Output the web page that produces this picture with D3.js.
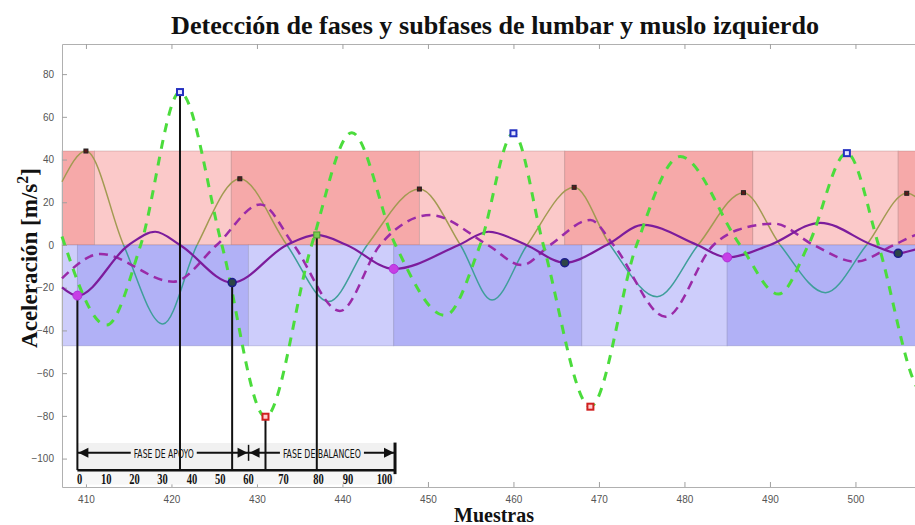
<!DOCTYPE html>
<html>
<head>
<meta charset="utf-8">
<script src="https://cdn.jsdelivr.net/npm/d3@7"></script>
<style>
  body { margin: 0; background: #fff; }
  .tick text { font-family: "Liberation Sans", Arial, sans-serif; font-size: 10px; fill: #555; }
</style>
</head>
<body>
<div id="chart"></div>
<script>
// --- data (samples, m/s^2) ---
var thinX = [407.2, 410, 414.4, 419, 423.0, 428, 433.5, 438.4, 442.9, 449, 453.8, 457.5, 461.6, 467.1, 471.3, 476.8, 481.6, 486.9, 491.2, 496.5, 501.3, 506, 509];
var thinY = [29.6, 44, 0, -37, 0, 31, 0, -26.5, 0, 26.2, 0, -25.8, 0, 27, 0, -24.2, 0, 24.5, 0, -22.3, 0, 24.2, 14];

var dashX = [407.2, 412.4, 416.4, 421, 425.9, 431, 436.4, 441.1, 446.2, 452, 456.1, 460, 463.5, 469, 474.4, 479.5, 486.5, 491, 494.5, 499, 502.7, 507.1, 509];
var dashY = [4, -37.5, 0, 71.6, 0, -80.4, 0, 52.6, 0, -33, 0, 52.3, 0, -75.7, 0, 41.4, 0, -23, 0, 43, 0, -66, -74];

var purpX = [407.2, 409, 415, 418.1, 421, 427.1, 433.5, 437, 440.5, 446, 453.6, 457.1, 461.5, 466, 470.9, 475.2, 481.5, 485, 490, 495.9, 502, 505, 507.1, 509];
var purpY = [-19.8, -23.7, 0, 6.2, 0, -17.6, 0, 4.7, 0, -11.2, 0, 6.2, 0, -8.3, 0, 9.4, 0, -5.8, 0, 10.4, 0, -3.9, -2, 0];

var purpDX = [407.2, 411.7, 420.2, 425.3, 430.4, 434.3, 439.7, 444.4, 450.3, 457, 461, 464.3, 469, 471.7, 477.8, 483.4, 486.2, 490.5, 495.1, 500, 504.5, 507.1, 509];
var purpDY = [-15.6, -4.2, -17.2, 0, 19, 0, -30.9, 0, 14, 0, -9.4, 0, 11.7, 0, -33.6, 0, 7, 10, 0, -7.8, 0, 4.7, 6];

var thinPeaks = [[410, 44], [428, 31], [449, 26.2], [467.1, 27], [486.9, 24.5], [506, 24.2]];
var dashPeaks = [[421, 71.6], [460, 52.3], [499, 43]];
var dashTroughs = [[431, -80.4], [469, -75.7]];
var purpMinA = [[409, -23.7], [446, -11.2], [485, -5.8]];
var purpMinB = [[427.1, -17.6], [466, -8.3], [505, -3.9]];
var purpPeak = [[437, 4.7]];

var eventLines = [[409, -23.7], [421, 71.6], [427.1, -17.6], [431, -80.4], [437, 4.7]];

// phase bands: [start, end, shade]
var redBands = [[407.2, 411, 1], [411, 427, 0], [427, 449, 1], [449, 466, 0], [466, 488, 1], [488, 505, 0], [505, 510, 1]];
var blueBands = [[407.2, 409, 0], [409, 429, 1], [429, 446, 0], [446, 468, 1], [468, 485, 0], [485, 510, 1]];
var redTop = 44, blueBottom = -47.2;

// gait cycle strip (percent label -> sample position)
var gaitPct = ["0", "10", "20", "30", "40", "50", "60", "70", "80", "90", "100"];
var gaitPos = [409.25, 412.37, 415.68, 418.96, 422.4, 425.71, 429.02, 433.11, 437.2, 440.64, 444.92];

var xTicks = [410, 420, 430, 440, 450, 460, 470, 480, 490, 500];
var yTicks = [-100, -80, -60, -40, -20, 0, 20, 40, 60, 80];

// --- layout ---
var W = 915, H = 525;
var margin = { left: 62, top: 44, bottom: 38 };

var x = d3.scaleLinear().domain([407.2, 510]).range([margin.left, margin.left + 102.8 * 8.55]);
var y = d3.scaleLinear().domain([-113.3, 94.1]).range([H - margin.bottom, margin.top]);

var svg = d3.select("#chart").append("svg")
    .attr("width", W)
    .attr("height", H)
    .style("font-family", "'Liberation Serif', serif");

// bands
svg.append("g").selectAll("rect")
    .data(redBands)
    .enter().append("rect")
    .attr("x", function (d) { return x(d[0]); })
    .attr("width", function (d) { return x(d[1]) - x(d[0]); })
    .attr("y", y(redTop))
    .attr("height", y(0) - y(redTop))
    .attr("fill", function (d) { return d[2] ? "#f6a9a9" : "#fbc9c9"; })
    .attr("stroke", "rgba(150,100,100,0.35)")
    .attr("stroke-width", 0.8);

svg.append("g").selectAll("rect")
    .data(blueBands)
    .enter().append("rect")
    .attr("x", function (d) { return x(d[0]); })
    .attr("width", function (d) { return x(d[1]) - x(d[0]); })
    .attr("y", y(0))
    .attr("height", y(blueBottom) - y(0))
    .attr("fill", function (d) { return d[2] ? "#b1b1f6" : "#cdcdfb"; })
    .attr("stroke", "rgba(110,110,160,0.35)")
    .attr("stroke-width", 0.8);

// axes box
var xAxisB = d3.axisBottom(x).tickValues(xTicks).tickSizeInner(-5).tickSizeOuter(0).tickPadding(9);
var xAxisT = d3.axisTop(x).tickValues(xTicks).tickSizeInner(-5).tickSizeOuter(0).tickFormat("");
var yAxisL = d3.axisLeft(y).tickValues(yTicks).tickSizeInner(-5).tickSizeOuter(0).tickPadding(8);

function styleAxis(g) {
    g.select(".domain").attr("stroke", "#b0b0b0");
    g.selectAll(".tick line").attr("stroke", "#a0a0a0");
}

svg.append("g").attr("transform", "translate(0," + y.range()[0] + ")").call(xAxisB).call(styleAxis);
svg.append("g").attr("transform", "translate(0," + y.range()[1] + ")").call(xAxisT).call(styleAxis);
svg.append("g").attr("transform", "translate(" + margin.left + ",0)").call(yAxisL).call(styleAxis);

// gait cycle strip
var gait = svg.append("g");
var gL = x(409), gR = x(446.15), g60 = x(429.02);
var yArrow = y(-97.3), yBase = y(-105.4), yNum = y(-109.6);

gait.append("rect")
    .attr("x", gL).attr("y", y(-92.7))
    .attr("width", gR - gL).attr("height", y(-112) - y(-92.7))
    .attr("fill", "#f1f1f1");

gait.append("rect")
    .attr("x", gL).attr("y", yBase + 2)
    .attr("width", gR - gL).attr("height", y(-112) - yBase - 2)
    .attr("fill", "#f7f7f7");

function arrowHead(px, dir) {
    gait.append("path")
        .attr("d", "M" + px + "," + yArrow + "l" + (-dir * 10) + ",-5l0,10z")
        .attr("fill", "#111");
}

gait.append("line").attr("x1", gL).attr("x2", gR).attr("y1", yArrow).attr("y2", yArrow)
    .attr("stroke", "#111").attr("stroke-width", 2);
arrowHead(gL + 1, -1);
arrowHead(g60 - 1, 1);
arrowHead(g60 + 1, -1);
arrowHead(gR - 1, 1);
gait.append("line").attr("x1", g60).attr("x2", g60).attr("y1", yArrow - 8).attr("y2", yArrow + 8)
    .attr("stroke", "#111").attr("stroke-width", 1.5);
gait.append("line").attr("x1", gR).attr("x2", gR).attr("y1", y(-92.5)).attr("y2", yBase + 4)
    .attr("stroke", "#111").attr("stroke-width", 3);

var phaseLabels = [["FASE DE APOYO", 419.1, 60], ["FASE DE BALANCEO", 437.6, 78]];
phaseLabels.forEach(function (p) {
    gait.append("rect")
        .attr("x", x(p[1]) - p[2] / 2 - 3).attr("y", yArrow - 8)
        .attr("width", p[2] + 6).attr("height", 16)
        .attr("fill", "#f1f1f1");
    gait.append("text")
        .attr("x", x(p[1])).attr("y", yArrow + 5)
        .attr("text-anchor", "middle")
        .attr("textLength", p[2])
        .attr("lengthAdjust", "spacingAndGlyphs")
        .style("font-family", "'DejaVu Sans Condensed', 'DejaVu Sans', sans-serif")
        .style("font-size", "13px")
        .style("fill", "#111")
        .text(p[0]);
});

gait.append("line").attr("x1", gL).attr("x2", gR).attr("y1", yBase).attr("y2", yBase)
    .attr("stroke", "#111").attr("stroke-width", 2.5);

gait.selectAll(".gnum")
    .data(gaitPct)
    .enter().append("text")
    .attr("class", "gnum")
    .attr("x", function (d, i) { return x(gaitPos[i]); })
    .attr("y", yNum + 5)
    .attr("text-anchor", "middle")
    .attr("transform", function (d, i) { var px = x(gaitPos[i]); return "translate(" + px + ",0) scale(0.75,1) translate(" + (-px) + ",0)"; })
    .style("font-family", "'Liberation Serif', serif")
    .style("font-weight", "bold")
    .style("font-size", "14px")
    .style("fill", "#111")
    .text(function (d) { return d; });

// curves
function pts(xs, ys) { return xs.map(function (v, i) { return [v, ys[i]]; }); }
var line = d3.line()
    .x(function (d) { return x(d[0]); })
    .y(function (d) { return y(d[1]); })
    .curve(d3.curveMonotoneX);

var defs = svg.append("defs");
defs.append("clipPath").attr("id", "clipTop").append("rect")
    .attr("x", 0).attr("y", 0).attr("width", W).attr("height", y(0));
defs.append("clipPath").attr("id", "clipBot").append("rect")
    .attr("x", 0).attr("y", y(0)).attr("width", W).attr("height", H - y(0));

svg.append("path").attr("d", line(pts(thinX, thinY)))
    .attr("fill", "none").attr("stroke", "#a29a52").attr("stroke-width", 1.5)
    .attr("clip-path", "url(#clipTop)");
svg.append("path").attr("d", line(pts(thinX, thinY)))
    .attr("fill", "none").attr("stroke", "#3f9e9a").attr("stroke-width", 1.5)
    .attr("clip-path", "url(#clipBot)");

svg.append("path").attr("d", line(pts(purpDX, purpDY)))
    .attr("fill", "none").attr("stroke", "#9a2aa8").attr("stroke-width", 2.5)
    .attr("stroke-dasharray", "9,6");

svg.append("path").attr("d", line(pts(purpX, purpY)))
    .attr("fill", "none").attr("stroke", "#7c1c9c").attr("stroke-width", 2.2);

svg.append("path").attr("d", line(pts(dashX, dashY)))
    .attr("fill", "none").attr("stroke", "#4bdc3c").attr("stroke-width", 3)
    .attr("stroke-dasharray", "9,8");

// event lines
svg.append("g").selectAll("line")
    .data(eventLines)
    .enter().append("line")
    .attr("x1", function (d) { return x(d[0]); })
    .attr("x2", function (d) { return x(d[0]); })
    .attr("y1", function (d) { return y(d[1]); })
    .attr("y2", yBase)
    .attr("stroke", "#111")
    .attr("stroke-width", 2);

// markers
function squares(data, size, fill, stroke, sw) {
    svg.append("g").selectAll("rect")
        .data(data)
        .enter().append("rect")
        .attr("x", function (d) { return x(d[0]) - size / 2; })
        .attr("y", function (d) { return y(d[1]) - size / 2; })
        .attr("width", size).attr("height", size)
        .attr("fill", fill).attr("stroke", stroke).attr("stroke-width", sw);
}
function circles(data, r, fill, stroke, sw) {
    svg.append("g").selectAll("circle")
        .data(data)
        .enter().append("circle")
        .attr("cx", function (d) { return x(d[0]); })
        .attr("cy", function (d) { return y(d[1]); })
        .attr("r", r)
        .attr("fill", fill).attr("stroke", stroke).attr("stroke-width", sw);
}

squares(thinPeaks, 4, "#5a1a1a", "#222", 1);
squares(dashPeaks, 6, "#e6e6ff", "#2430c0", 2);
squares(dashTroughs, 6, "#ffd0d0", "#d02020", 2);
squares(purpPeak, 6, "#7acb50", "#4a9a30", 1);
circles(purpMinA, 4.5, "#c63ee6", "#b030d8", 1);
circles(purpMinB, 4, "#2c4646", "#1c1c8a", 1.5);

// titles
svg.append("text")
    .attr("x", 495).attr("y", 34)
    .attr("text-anchor", "middle")
    .attr("textLength", 648)
    .attr("lengthAdjust", "spacingAndGlyphs")
    .style("font-weight", "bold")
    .style("font-size", "25px")
    .style("fill", "#111")
    .text("Detección de fases y subfases de lumbar y muslo izquierdo");

svg.append("text")
    .attr("x", 494).attr("y", 522)
    .attr("text-anchor", "middle")
    .style("font-weight", "bold")
    .style("font-size", "20px")
    .style("fill", "#111")
    .text("Muestras");

var yl = svg.append("text")
    .attr("transform", "translate(37,258) rotate(-90)")
    .attr("text-anchor", "middle")
    .style("font-weight", "bold")
    .style("font-size", "23px")
    .style("fill", "#111");
yl.append("tspan").text("Aceleración [m/s");
yl.append("tspan").attr("dy", -9).style("font-size", "16px").text("2");
yl.append("tspan").attr("dy", 9).text("]");
</script>
</body>
</html>
